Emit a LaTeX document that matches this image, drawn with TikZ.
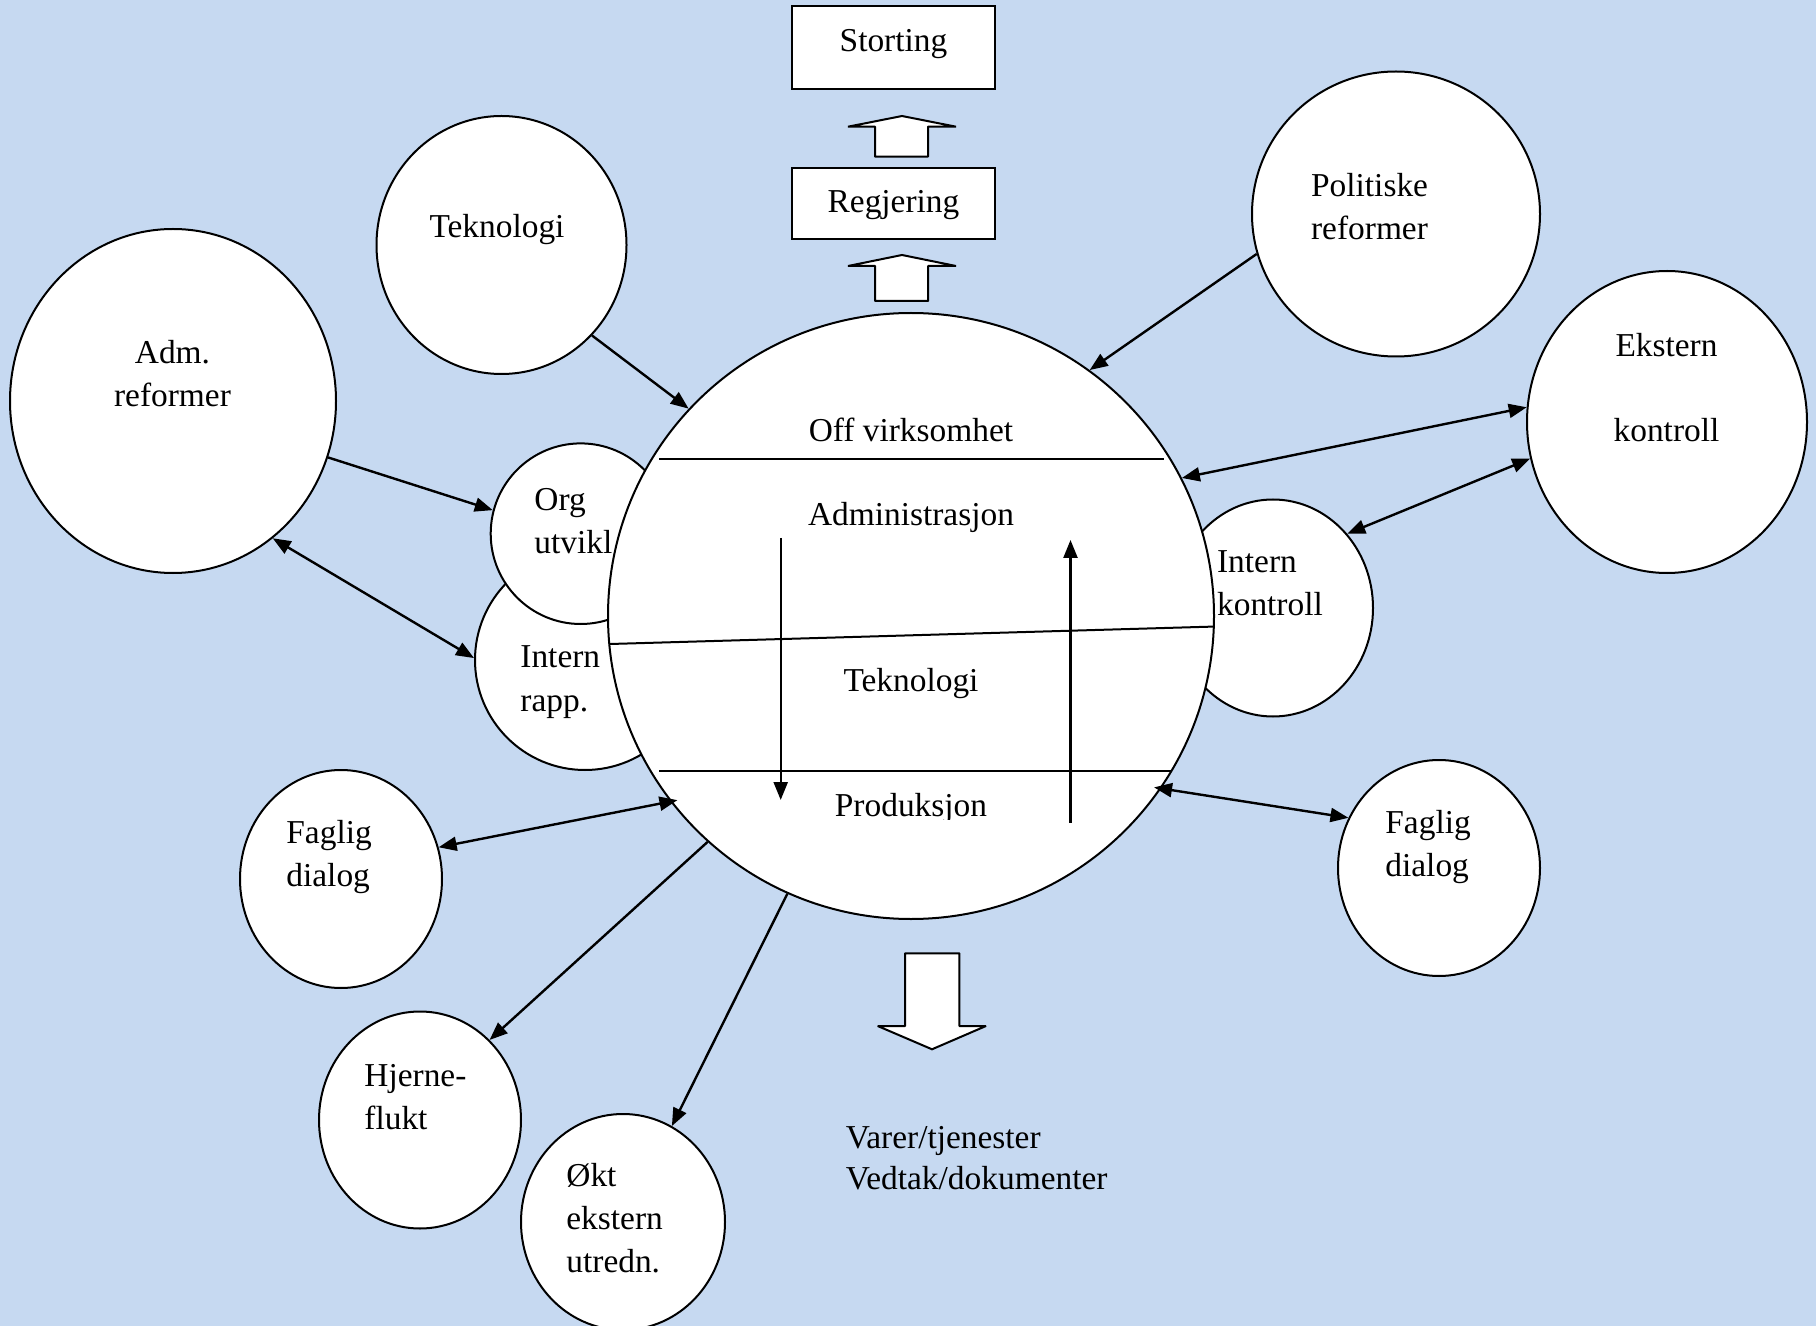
\documentclass[tikz,border=0pt]{standalone}
\usepackage{fontspec}
\setmainfont{Liberation Serif}
\usetikzlibrary{arrows.meta,shapes.geometric}
\definecolor{bg}{HTML}{C6D9F1}
\begin{document}
\begin{tikzpicture}[x=0.5pt,y=-0.5pt,
  circ/.style={ellipse,draw=black,fill=white,line width=1pt,inner sep=0pt},
  box/.style={rectangle,draw=black,fill=white,line width=1pt,inner sep=0pt},
  txt/.style={inner sep=0pt,font=\fontsize{16.7}{21.5}\selectfont},
  tip/.tip={Triangle[length=9pt,width=7pt]},
  conn/.style={line width=1.2pt,-tip},
  biconn/.style={line width=1.2pt,tip-tip},
  blockarrow/.style={draw=black,fill=white,line width=1pt,line join=miter,miter limit=1.2},
  divider/.style={line width=1pt}
]
\fill[bg] (0,0) rectangle (1816,1326);
\useasboundingbox (0,0) rectangle (1816,1326);

% outer circles
\node[circ,minimum width=125pt,minimum height=129pt] (tek) at (501.5,245) {};
\node[circ,minimum width=163pt,minimum height=172pt] (adm) at (173,401) {};
\node[circ,minimum width=144pt,minimum height=142.5pt] (pol) at (1396,214) {};
\node[circ,minimum width=140pt,minimum height=151pt] (eks) at (1667,422) {};
\node[circ,minimum width=100pt,minimum height=108.5pt] (ikon) at (1273,608) {};
\node[circ,minimum width=110pt,minimum height=110pt] (irapp) at (585,660) {};
\node[circ,minimum width=90pt,minimum height=90.3pt] (org) at (580.7,533.7) {};
\node[circ,minimum width=101pt,minimum height=109pt] (fl) at (341,879) {};
\node[circ,minimum width=101pt,minimum height=108pt] (fr) at (1439,868) {};
\node[circ,minimum width=101pt,minimum height=108.5pt] (hj) at (420,1120) {};
\node[circ,minimum width=102pt,minimum height=108pt] (okt) at (623,1222) {};

% main circle
\node[circ,minimum width=303pt,minimum height=303pt] (main) at (911,616) {};
\draw[divider] (659,459) -- (1163.5,459);
\draw[divider] (610,644) -- (1213,626.6);
\draw[divider] (659,770.5) -- (1171,770.5);

% boxes
\node[box,minimum width=101.75pt,minimum height=41.25pt] (stor) at (893.7,47.7) {};
\node[box,minimum width=101.75pt,minimum height=35.75pt] (reg) at (893.7,203.7) {};

% block arrows
\draw[blockarrow] (875,156.7) -- (875,126.7) -- (848,126.7) -- (902,116) -- (956,126.7) -- (928,126.7) -- (928,156.7) -- cycle;
\draw[blockarrow] (875,301) -- (875,266) -- (848,266) -- (902,255) -- (956,266) -- (928,266) -- (928,301) -- cycle;
\draw[blockarrow] (905,953.3) -- (959.3,953.3) -- (959.3,1026) -- (986,1026) -- (932,1049.3) -- (877.7,1026) -- (905,1026) -- cycle;

% texts
\node[txt,anchor=base] (tstor) at (893.5,52) {Storting};
\node[txt,anchor=base] (treg) at (893.5,213) {Regjering};
\node[txt,anchor=base] (ttek) at (497,238) {Teknologi};
\node[txt,anchor=base] (tadm1) at (172.5,364) {Adm.};
\node[txt,anchor=base] (tadm2) at (172.5,407) {reformer};
\node[txt,anchor=base west] (tpol1) at (1310.7,196.7) {Politiske};
\node[txt,anchor=base west] (tpol2) at (1310.7,240) {reformer};
\node[txt,anchor=base] (teks1) at (1666.5,357) {Ekstern};
\node[txt,anchor=base] (teks2) at (1666.5,442) {kontroll};
\node[txt,anchor=base west] (torg1) at (534,511) {Org};
\node[txt,anchor=base west] (torg2) at (534,553.5) {utvikl};
\node[txt,anchor=base west] (tir1) at (520,668) {Intern};
\node[txt,anchor=base west] (tir2) at (520,711) {rapp.};
\node[txt,anchor=base west] (tik1) at (1216.7,573) {Intern};
\node[txt,anchor=base west] (tik2) at (1216.7,616) {kontroll};
\node[txt,anchor=base west] (tfl1) at (286,843) {Faglig};
\node[txt,anchor=base west] (tfl2) at (286,886) {dialog};
\node[txt,anchor=base west] (thj1) at (364,1086) {Hjerne-};
\node[txt,anchor=base west] (thj2) at (364,1129) {flukt};
\node[txt,anchor=base west] (tokt1) at (566,1186.5) {Økt};
\node[txt,anchor=base west] (tokt2) at (566,1229) {ekstern};
\node[txt,anchor=base west] (tokt3) at (566,1272) {utredn.};
\node[txt,anchor=base west] (tfr1) at (1385,833) {Faglig};
\node[txt,anchor=base west] (tfr2) at (1385,876) {dialog};
\node[txt,anchor=base west] (tvar1) at (845.5,1148) {Varer/tjenester};
\node[txt,anchor=base west] (tvar2) at (845.5,1189) {Vedtak/dokumenter};
\node[txt,anchor=base] (toff) at (911,442) {Off virksomhet};
\node[txt,anchor=base] (tadmi) at (911,525.4) {Administrasjon};
\node[txt,anchor=base] (ttek2) at (911,691.5) {Teknologi};
\begin{scope}
\clip (700,780) rectangle (1120,819);
\node[txt,anchor=base] (tprod) at (911,816) {Produksjon};
\end{scope}

% inner arrows
\coordinate (d1) at (780.7,538);
\coordinate (d2) at (780.7,800);
\coordinate (u1) at (1070.5,822.7);
\coordinate (u2) at (1070.5,540);
\draw[conn] (d1) -- (d2);
\draw[conn] (u1) -- (u2);

% connectors
\draw[conn] (tek.-45) -- (main.137.5);
\draw[conn] (pol.196.4) -- (main.54.5);
\draw[conn] (adm.-20.4) -- (org.165);
\draw[biconn] (adm.-54.1) -- (irapp.179.5);
\draw[biconn] (main.27.9) -- (eks.174.2);
\draw[biconn] (ikon.45.6) -- (eks.195.5);
\draw[biconn] (fl.18.9) -- ([shift={(6,-3)}]main.218.3);
\draw[biconn] ([shift={(-6,-3)}]main.-35.9) -- (fr.151.7);
\draw[conn] (main.228.3) -- (hj.49.4);
\draw[conn] (main.246.7) -- (okt.63.6);
\end{tikzpicture}
\end{document}
